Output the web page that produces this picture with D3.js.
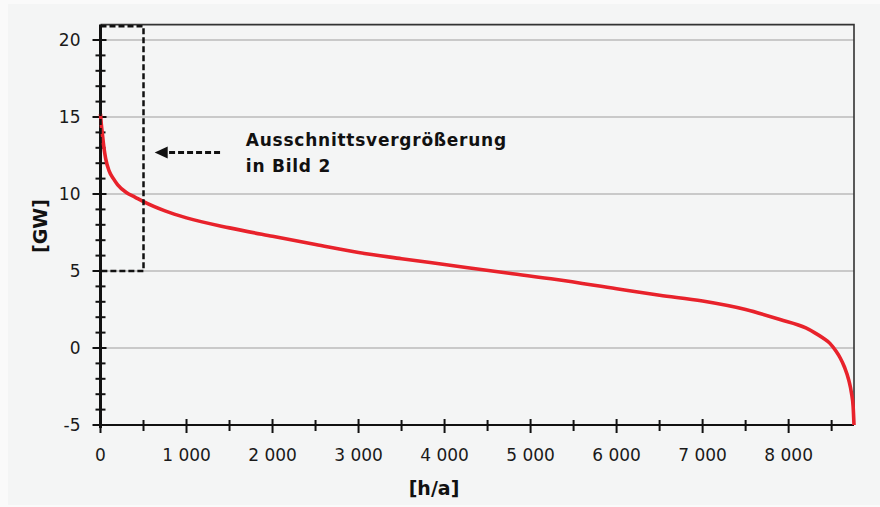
<!DOCTYPE html>
<html>
<head>
<meta charset="utf-8">
<script src="https://cdn.jsdelivr.net/npm/d3@7"></script>
<style>
  html, body { margin: 0; padding: 0; background: #fafafa; }
  svg { display: block; }
</style>
</head>
<body>
<div id="chart"></div>
<script>
// sorted load duration curve, hours per year vs GW
const hours = [0, 10, 20, 40, 60, 100, 150, 200, 300, 400, 500, 750, 1000, 1500, 2000, 2500,
  3000, 3500, 4000, 4750, 5300, 6000, 6500, 7000, 7500, 7900, 8200, 8300, 8400, 8480, 8550,
  8600, 8650, 8700, 8730, 8750, 8760];
const gw = [15.2, 14.5, 14.0, 13.0, 12.3, 11.5, 11.0, 10.6, 10.1, 9.8, 9.5, 8.9, 8.45, 7.8, 7.25, 6.72,
  6.2, 5.8, 5.42, 4.85, 4.45, 3.85, 3.43, 3.05, 2.5, 1.85, 1.3, 1.0, 0.65, 0.3, -0.2,
  -0.65, -1.25, -2.1, -2.9, -3.8, -5.0];

const xTicks = [0, 1000, 2000, 3000, 4000, 5000, 6000, 7000, 8000];
const xTickLabels = ["0", "1 000", "2 000", "3 000", "4 000", "5 000", "6 000", "7 000", "8 000"];
const yTicks = [-5, 0, 5, 10, 15, 20];
const gridValues = [0, 5, 10, 15, 20];

// zoom box + arrow note
const boxHours = [0, 500];
const boxGW = [5, 20.9];
const arrowHours = [1390, 630];
const arrowGW = 12.7;
const noteLines = ["Ausschnittsvergrößerung", "in Bild 2"];
const noteHours = 1690;
const noteGW = [13.1, 11.4];

const W = 880, H = 507;
const margin = {top: 24.6, right: 26, bottom: 82, left: 100.5};

const svg = d3.select("#chart").append("svg")
  .attr("width", W)
  .attr("height", H);

// background
svg.append("rect").attr("width", W).attr("height", H).attr("fill", "#fafafa");
svg.append("rect").attr("x", 8).attr("y", 4).attr("width", W - 8).attr("height", H - 6).attr("fill", "#f4f5f5");

const x = d3.scaleLinear().domain([0, 8760]).range([margin.left, W - margin.right]);
const y = d3.scaleLinear().domain([-5, 21]).range([H - margin.bottom, margin.top]);

const font = "'DejaVu Sans', Verdana, sans-serif";

// grid lines
svg.append("g")
  .selectAll("line")
  .data(gridValues)
  .join("line")
  .attr("x1", x(0)).attr("x2", x(8760))
  .attr("y1", d => y(d)).attr("y2", d => y(d))
  .attr("stroke", "#c9c9c9")
  .attr("stroke-width", 2);

// frame top + right
svg.append("path")
  .attr("d", `M${x(0)},${y(21)}H${x(8760)}V${y(-5)}`)
  .attr("fill", "none")
  .attr("stroke", "#333")
  .attr("stroke-width", 1.6);

// x axis
const xAxis = svg.append("g").attr("transform", `translate(0,${y(-5)})`);
xAxis.append("line")
  .attr("x1", x(0)).attr("x2", x(8760))
  .attr("stroke", "#111").attr("stroke-width", 2);
xAxis.selectAll(".minor")
  .data(d3.range(500, 8760, 1000))
  .join("line")
  .attr("x1", d => x(d)).attr("x2", d => x(d))
  .attr("y1", -5).attr("y2", 6)
  .attr("stroke", "#111").attr("stroke-width", 2);
xAxis.selectAll(".major")
  .data(xTicks)
  .join("line")
  .attr("x1", d => x(d)).attr("x2", d => x(d))
  .attr("y1", -6).attr("y2", 8)
  .attr("stroke", "#111").attr("stroke-width", 2);
xAxis.selectAll("text")
  .data(xTicks)
  .join("text")
  .attr("x", d => x(d))
  .attr("y", 35.5)
  .attr("text-anchor", "middle")
  .attr("font-family", font)
  .attr("font-size", 17)
  .attr("fill", "#1a1a1a")
  .text((d, i) => xTickLabels[i]);

// y axis
const yAxis = svg.append("g").attr("transform", `translate(${x(0)},0)`);
yAxis.selectAll(".minor")
  .data(d3.range(-4, 21, 1).filter(d => d % 5 !== 0))
  .join("line")
  .attr("y1", d => y(d)).attr("y2", d => y(d))
  .attr("x1", -5).attr("x2", 5)
  .attr("stroke", "#111").attr("stroke-width", 2);
yAxis.selectAll(".major")
  .data(yTicks)
  .join("line")
  .attr("y1", d => y(d)).attr("y2", d => y(d))
  .attr("x1", -8).attr("x2", 6)
  .attr("stroke", "#111").attr("stroke-width", 2);
yAxis.append("line")
  .attr("y1", y(21)).attr("y2", y(-5) + 3)
  .attr("stroke", "#111").attr("stroke-width", 3);
yAxis.selectAll("text")
  .data(yTicks)
  .join("text")
  .attr("x", -20)
  .attr("y", d => y(d))
  .attr("dy", "0.36em")
  .attr("text-anchor", "end")
  .attr("font-family", font)
  .attr("font-size", 17)
  .attr("fill", "#1a1a1a")
  .text(d => d);

// axis titles
svg.append("text")
  .attr("x", 434).attr("y", 495)
  .attr("text-anchor", "middle")
  .attr("font-family", font)
  .attr("font-weight", "bold")
  .attr("font-size", 19)
  .attr("fill", "#111")
  .text("[h/a]");
svg.append("text")
  .attr("transform", "translate(47,226) rotate(-90)")
  .attr("text-anchor", "middle")
  .attr("font-family", font)
  .attr("font-weight", "bold")
  .attr("font-size", 19)
  .attr("fill", "#111")
  .text("[GW]");

// curve
svg.append("path")
  .datum(hours.map((h, i) => [h, gw[i]]))
  .attr("fill", "none")
  .attr("stroke", "#e8222b")
  .attr("stroke-width", 3.6)
  .attr("stroke-linejoin", "round")
  .attr("d", d3.line()
    .x(d => x(d[0]))
    .y(d => y(d[1]))
    .curve(d3.curveMonotoneX));

// zoom box
svg.append("rect")
  .attr("x", x(boxHours[0]))
  .attr("y", y(boxGW[1]))
  .attr("width", x(boxHours[1]) - x(boxHours[0]))
  .attr("height", y(boxGW[0]) - y(boxGW[1]))
  .attr("fill", "none")
  .attr("stroke", "#111")
  .attr("stroke-width", 2.5)
  .attr("stroke-dasharray", "6,3");

// arrow
const tip = x(arrowHours[1]), ay = y(arrowGW);
svg.append("line")
  .attr("x1", x(arrowHours[0])).attr("x2", tip + 10)
  .attr("y1", ay).attr("y2", ay)
  .attr("stroke", "#111")
  .attr("stroke-width", 3)
  .attr("stroke-dasharray", "6,3");
svg.append("path")
  .attr("d", `M${tip},${ay}L${tip + 13},${ay - 6}L${tip + 13},${ay + 6}Z`)
  .attr("fill", "#111");

// note
svg.append("g")
  .selectAll("text")
  .data(noteLines)
  .join("text")
  .attr("x", x(noteHours))
  .attr("y", (d, i) => y(noteGW[i]))
  .attr("font-family", font)
  .attr("font-weight", "bold")
  .attr("font-size", 17)
  .attr("letter-spacing", 0.75)
  .attr("fill", "#111")
  .text(d => d);
</script>
</body>
</html>
